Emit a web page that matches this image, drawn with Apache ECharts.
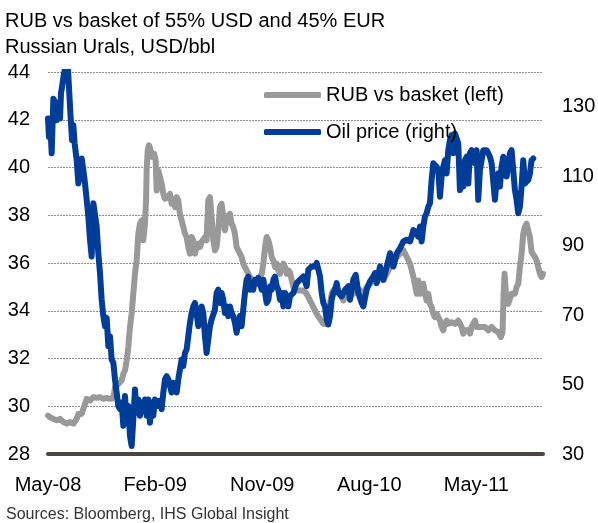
<!DOCTYPE html>
<html>
<head>
<meta charset="utf-8">
<script src="https://cdn.jsdelivr.net/npm/echarts@6/dist/echarts.min.js"></script>
<style>
html, body { margin: 0; padding: 0; background: #fff; }
#chart { width: 598px; height: 523px; }
</style>
</head>
<body>
<div id="chart"></div>
<script>
const titleText = 'RUB vs basket of 55% USD and 45% EUR\nRussian Urals, USD/bbl'
const sourceText = 'Sources: Bloomberg, IHS Global Insight'

// x is months since May-08
const xTickLabels = { 0: 'May-08', 9: 'Feb-09', 18: 'Nov-09', 27: 'Aug-10', 36: 'May-11' }

const rubMonths = [
  0, 0.17, 0.45, 0.73, 1.01, 1.29, 1.57, 1.85, 2.13, 2.27, 2.41, 2.55, 2.69, 2.83, 2.97, 3.11,
  3.25, 3.39, 3.53, 3.67, 3.81, 4.09, 4.37, 4.65, 4.93, 5.21, 5.43, 5.55, 5.63, 5.91, 6.19, 6.33,
  6.47, 6.61, 6.75, 6.89, 7.03, 7.17, 7.31, 7.45, 7.59, 7.73, 7.87, 8.01, 8.15, 8.24, 8.29, 8.38,
  8.49, 8.63, 8.77, 8.91, 9.05, 9.13, 9.27, 9.41, 9.55, 9.69, 9.83, 9.97,
  10.11, 10.25, 10.39, 10.53, 10.67, 10.81, 10.95, 11.09, 11.23, 11.37, 11.51, 11.65, 11.79, 11.93,
  12.07, 12.21, 12.35, 12.49, 12.63, 12.77, 12.91, 13.05, 13.19, 13.33, 13.47, 13.61, 13.75, 13.89,
  14.03, 14.17, 14.31, 14.45, 14.59, 14.73, 14.87, 15.01, 15.15, 15.29, 15.43, 15.57, 15.71, 15.85,
  15.99, 16.13, 16.27, 16.41, 16.55, 16.69, 16.83, 16.97, 17.11, 17.25, 17.39, 17.53, 17.67, 17.82,
  17.96, 18.1, 18.24, 18.38, 18.52, 18.66, 18.8, 18.94, 19.08, 19.22, 19.36, 19.5, 19.64, 19.78,
  19.92, 20.06, 20.2, 20.34, 20.62, 20.9, 21.46, 21.74, 22.02, 22.3, 22.58, 22.86, 23.14, 23.28,
  23.42, 23.56, 23.84, 23.98, 24.26, 24.54, 24.82, 25.1, 25.38, 25.66, 25.94, 26.22, 26.5, 26.78,
  27.06, 27.34, 27.62, 27.9, 28.18, 28.47, 28.75, 29.03, 29.31, 29.59, 29.87, 30.15, 30.43, 30.71,
  30.99, 31.12, 31.26, 31.4, 31.54, 31.68, 31.82, 31.96, 32.1, 32.24, 32.38, 32.52, 32.66, 32.8,
  32.94, 33.08, 33.22, 33.36, 33.5, 33.64, 33.92, 34.2, 34.48, 34.76, 34.9, 35.04, 35.32, 35.46,
  35.6, 35.88, 36.02, 36.3, 36.72, 37.0, 37.28, 37.56, 37.84, 38.06, 38.2, 38.29, 38.37, 38.48,
  38.68, 38.96, 39.24, 39.38, 39.52, 39.66, 39.8, 39.94, 40.08, 40.22, 40.36, 40.5, 40.64, 40.78,
  40.92, 41.06, 41.2, 41.34, 41.48, 41.6
]
const rubBasket = [
  29.61, 29.54, 29.47, 29.41, 29.47, 29.34, 29.27, 29.34, 29.27, 29.2, 29.47, 29.68, 29.75, 29.68, 29.89, 29.96,
  30.31, 30.38, 30.24, 30.31, 30.38, 30.35, 30.38, 30.31, 30.35, 30.31, 30.35, 30.52, 30.8, 30.94, 31.08, 31.36,
  31.5, 31.92, 32.48, 33.32, 33.87, 34.71, 35.55, 36.1, 37.23, 37.65, 37.78, 36.95, 37.65, 38.62, 39.88, 40.72,
  40.93, 40.72, 40.44, 40.58, 40.3, 39.04, 39.88, 39.88, 39.32, 38.9, 38.69, 38.62,
  38.76, 38.9, 38.48, 38.62, 38.34, 38.76, 38.62, 38.06, 37.78, 37.51, 37.23, 37.09, 36.67, 36.39,
  37.09, 36.95, 36.39, 36.67, 36.81, 36.67, 36.88, 36.81, 37.09, 36.95, 38.62, 38.76, 37.92, 36.95,
  36.53, 36.67, 37.37, 38.34, 38.48, 37.92, 37.37, 37.92, 37.92, 38.06, 37.65, 37.51, 37.23, 36.67,
  36.53, 36.39, 36.25, 35.97, 35.83, 35.69, 35.55, 35.41, 35.34, 35.27, 35.2, 35.13, 35.27, 35.2,
  35.55, 35.97, 36.67, 37.09, 36.95, 36.67, 36.25, 36.1, 35.83, 35.97, 35.69, 35.55, 35.83, 35.97,
  35.83, 35.55, 35.69, 35.6, 34.99, 34.85, 34.85, 34.71, 34.43, 34.15, 33.87, 33.66, 33.45, 33.39,
  33.45, 33.87, 34.71, 34.85, 34.99, 34.71, 34.43, 34.71, 34.85, 34.71, 34.99, 34.85, 34.71, 34.99,
  35.13, 35.27, 35.41, 35.55, 35.27, 35.55, 35.83, 36.11, 36.25, 36.39, 36.53, 36.25, 35.97, 35.41,
  34.71, 35.27, 34.71, 34.85, 35.13, 34.71, 34.43, 34.71, 34.29, 34.15, 33.87, 33.73, 33.87, 33.73,
  33.59, 33.32, 33.18, 33.45, 33.59, 33.45, 33.52, 33.45, 33.59, 33.32, 33.04, 33.18, 33.18, 33.04,
  33.32, 33.59, 33.32, 33.32, 33.32, 33.18, 33.32, 33.18, 33.11, 32.9, 33.11, 34.71, 35.55, 34.71,
  34.29, 34.71, 34.71, 34.99, 35.13, 35.83, 36.39, 37.23, 37.51, 37.65, 37.58, 37.09, 36.46, 36.39,
  36.25, 36.11, 35.83, 35.55, 35.41, 35.55
]

const oilMonths = [
  0, 0.08, 0.17, 0.31, 0.45, 0.59, 0.73, 0.87, 1.01, 1.09, 1.2, 1.34, 1.51, 1.68, 1.79, 1.9,
  2.02, 2.13, 2.24, 2.41, 2.55, 2.69, 2.83, 2.97, 3.11, 3.25, 3.39, 3.53, 3.67, 3.81, 3.95, 4.09,
  4.23, 4.37, 4.51, 4.65, 4.79, 4.93, 5.07, 5.21, 5.35, 5.49, 5.63, 5.77, 5.91, 6.05, 6.19, 6.33,
  6.47, 6.61, 6.75, 6.89, 7.03, 7.17, 7.31, 7.45, 7.59, 7.73, 7.87, 8.01, 8.15, 8.29, 8.43, 8.57,
  8.71, 8.85, 8.99, 9.13, 9.36, 9.55, 9.69, 9.83, 9.97,
  10.11, 10.39, 10.53, 10.81, 10.95, 11.09, 11.23, 11.37, 11.51, 11.65, 11.79, 11.93, 12.07, 12.21,
  12.35, 12.49, 12.63, 12.77, 12.91, 13.05, 13.19, 13.33, 13.47, 13.61, 13.75, 14.03, 14.17, 14.31,
  14.45, 14.59, 14.73, 14.87, 15.01, 15.15, 15.29, 15.43, 15.57, 15.71, 15.85, 15.99, 16.13, 16.27,
  16.41, 16.55, 16.69, 16.83, 16.97, 17.11, 17.25, 17.39, 17.53, 17.67, 17.82, 17.96, 18.1, 18.24,
  18.38, 18.52, 18.66, 18.8, 18.94, 19.08, 19.22, 19.36, 19.5, 19.64, 19.78, 19.92, 20.06, 20.2,
  20.34, 20.62, 20.9, 21.18, 21.46, 21.74, 21.88, 22.16, 22.44, 22.58, 22.72, 22.86, 23.0, 23.14,
  23.28, 23.42, 23.56, 23.7, 23.84, 23.98, 24.12, 24.26, 24.4, 24.68, 24.96, 25.24, 25.38, 25.66,
  25.86, 26.08, 26.36, 26.5, 26.78, 27.06, 27.34, 27.48, 27.62, 27.9, 28.18, 28.47, 28.75, 29.03,
  29.31, 29.59, 29.87, 30.15, 30.43, 30.71,
  31.12, 31.26, 31.4, 31.54, 31.68, 31.82, 31.96, 32.1, 32.24, 32.38, 32.52, 32.66, 32.8, 32.94,
  33.08, 33.22, 33.36, 33.5, 33.64, 33.78, 33.92, 34.06, 34.2, 34.34, 34.48, 34.62, 34.76, 34.9,
  35.04, 35.18, 35.32, 35.46, 35.6, 35.74, 35.88, 36.02, 36.16, 36.3, 36.44, 36.58, 36.72, 36.86,
  37.0, 37.14, 37.28, 37.56, 37.7, 37.84, 37.98, 38.12, 38.26, 38.4, 38.54, 38.82, 38.96, 39.1,
  39.24, 39.38, 39.52, 39.66, 39.8, 39.94, 40.08, 40.22, 40.36, 40.5, 40.64, 40.78
]
const oilPrice = [
  126.6, 121.3, 126.6, 116.6, 132.3, 131.4, 126.1, 129.0, 126.6, 133.8, 136.2, 139.5, 142, 141, 133.8, 127.1,
  120.4, 124.7, 119.4, 114.6, 107.9, 111.8, 115.1, 111.8, 107.9, 103.2, 98.4, 91.7, 86.9, 102.2, 102.7, 95.5,
  87.8, 82.1, 74.4, 69.7, 66.8, 69.2, 61.1, 63.9, 57.2, 56.3, 51.5, 47.7, 43.8, 42.9, 44.8, 38.1,
  46.7, 40.0, 43.8, 35.2, 32.3, 40.0, 48.6, 41.9, 45.7, 41.0, 44.8, 43.8, 45.7, 41.0, 45.7, 39.0,
  44.8, 41.0, 45.7, 43.8, 45.3, 42.9, 47.7, 51.5, 52.4,
  51.5, 47.7, 50.5, 47.7, 51.5, 54.4, 57.2, 55.3, 59.1, 60.1, 63.9, 67.8, 70.6, 72.5,
  73.5, 70.6, 66.8, 69.7, 72.5, 70.6, 63.9, 59.1, 63.0, 66.8, 68.7, 71.6, 76.4, 77.3,
  73.5, 76.4, 74.4, 70.6, 72.5, 69.7, 72.5, 70.6, 69.7, 67.8, 64.9, 67.8, 69.7, 66.8,
  71.6, 76.4, 80.2, 81.1, 77.3, 79.2, 77.3, 80.2, 79.2, 80.7, 80.2, 77.3, 80.2, 76.4,
  73.5, 74.4, 78.3, 77.3, 80.2, 81.1, 78.3, 77.3, 74.4, 76.4, 72.5, 76.4, 75.4, 72.5,
  75.5, 76.4, 79.2, 80.2, 81.1, 78.3, 83.1, 84.0, 84.0, 85.0, 83.1, 81.1, 76.4, 73.5,
  72.5, 68.7, 67.3, 69.7, 74.4, 76.4, 77.3, 79.2, 76.4, 75.4, 77.3, 78.3, 74.4, 80.2,
  81.6, 76.4, 73.5, 72.5, 77.3, 79.7, 81.1, 82.1, 79.2, 84.0, 80.2, 84.0, 87.8, 84.0,
  87.8, 89.3, 91.2, 91.7, 91.2, 94.5,
  92.6, 95.5, 91.2, 95.5, 98.4, 99.3, 101.2, 102.2, 108.9, 113.7, 114.2, 112.7, 111.8, 104.1,
  109.9, 112.7, 114.6, 110.8, 117.5, 120.4, 121.8, 116.6, 122.3, 122.8, 119.4, 106.0, 111.8, 107.0,
  114.6, 115.6, 107.9, 116.6, 117.5, 114.6, 113.7, 117.5, 103.2, 111.8, 114.6, 117.5, 118.0, 117.5,
  116.6, 115.6, 113.7, 103.2, 108.9, 110.8, 107.0, 112.7, 115.6, 114.6, 109.9, 116.6, 117.5, 117.5,
  106.0, 103.2, 99.3, 101.2, 107.0, 114.6, 107.9, 107.9, 108.9, 110.8, 114.6, 115.1
]

const pairs = (xs, ys) => xs.map((x, i) => [x, ys[i]])
const fontFamily = '"Liberation Sans", Arial, sans-serif'

const chart = echarts.init(document.getElementById('chart'))

chart.setOption({
  animation: false,
  backgroundColor: '#fff',
  textStyle: { fontFamily },
  title: {
    text: titleText,
    left: 0,
    top: 3,
    textStyle: { fontSize: 20, lineHeight: 26, fontWeight: 'normal', color: '#000', fontFamily },
  },
  graphic: [
    {
      type: 'text',
      left: 6,
      top: 507,
      style: { text: sourceText, fontSize: 16, fill: '#333', fontFamily },
    },
  ],
  legend: {
    orient: 'vertical',
    left: 259,
    top: 79,
    itemGap: 15,
    itemWidth: 57,
    itemHeight: 6,
    icon: 'roundRect',
    textStyle: { fontSize: 20, lineHeight: 22, color: '#000', fontFamily },
    data: ['RUB vs basket (left)', 'Oil price (right)'],
  },
  grid: {
    left: 48,
    right: 55,
    top: 72,
    bottom: 69,
    outerBoundsMode: 'none',
  },
  xAxis: {
    type: 'value',
    min: 0,
    max: 41.6,
    interval: 9,
    axisLine: { show: true, lineStyle: { color: '#4a4646', width: 4 } },
    axisTick: { show: false },
    splitLine: { show: false },
    axisLabel: {
      margin: 21,
      fontSize: 20,
      color: '#000',
      fontFamily,
      formatter: (v) => xTickLabels[v] || '',
    },
  },
  yAxis: [
    {
      type: 'value',
      min: 28,
      max: 44,
      interval: 2,
      axisLine: { show: false },
      axisTick: { show: false },
      axisLabel: { margin: 18, fontSize: 20, color: '#000', fontFamily },
      splitLine: { lineStyle: { color: '#8c8c8c', width: 1, type: [2, 1] } },
    },
    {
      type: 'value',
      min: 30,
      max: 140,
      interval: 10,
      position: 'right',
      axisLine: { show: false },
      axisTick: { show: false },
      splitLine: { show: false },
      axisLabel: {
        margin: 19,
        fontSize: 20,
        color: '#000',
        fontFamily,
        formatter: (v) => ((v - 30) % 20 === 0 && v <= 130 ? String(v) : ''),
      },
    },
  ],
  series: [
    {
      name: 'RUB vs basket (left)',
      type: 'line',
      yAxisIndex: 0,
      data: pairs(rubMonths, rubBasket),
      showSymbol: false,
      color: '#999999',
      lineStyle: { color: '#999999', width: 6, join: 'round', cap: 'round' },
    },
    {
      name: 'Oil price (right)',
      type: 'line',
      yAxisIndex: 1,
      data: pairs(oilMonths, oilPrice),
      showSymbol: false,
      color: '#003d99',
      lineStyle: { color: '#003d99', width: 6, join: 'round', cap: 'round' },
    },
  ],
})
</script>
</body>
</html>
